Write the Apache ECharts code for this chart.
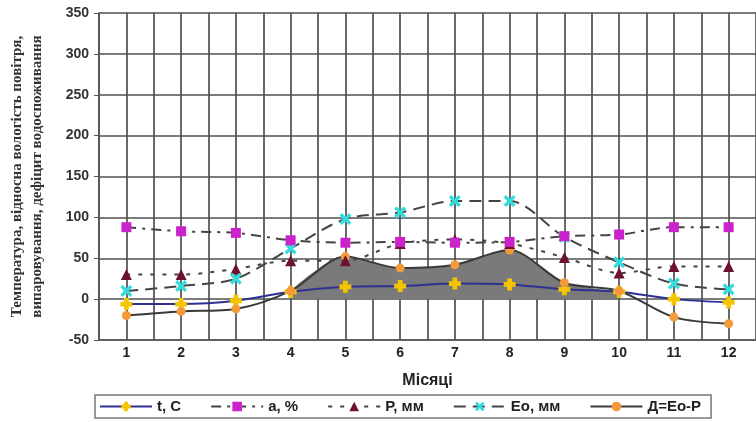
<!DOCTYPE html>
<html>
<head>
<meta charset="utf-8">
<script src="https://cdn.jsdelivr.net/npm/echarts@6/dist/echarts.min.js"></script>
<style>html,body{margin:0;padding:0;background:#fff}#c{width:756px;height:422px}</style>
</head>
<body>
<div id="c"></div>
<script>
var months = [1,2,3,4,5,6,7,8,9,10,11,12];
var tC   = [-6, -6, -2, 9, 15, 16, 19, 18, 12, 9, 0, -4];
var aPct = [88, 83, 81, 72, 69, 70, 69, 70, 77, 79, 88, 88];
var P    = [30, 30, 37, 47, 47, 68, 73, 68, 51, 32, 40, 40];
var Eo   = [10, 16, 25, 62, 98, 106, 120, 120, 76, 45, 19, 12];
var D    = [-20, -15, -12, 10, 52, 38, 42, 60, 20, 10, -22, -30];
var yTicks = [-50, 0, 50, 100, 150, 200, 250, 300, 350];
var names = ['t, C', 'a, %', 'P, мм', 'Eo, мм', 'Д=Eo-P'];

function pairs(arr, from, to) {
  var out = [];
  for (var i = (from || 0); i < (to || arr.length); i++) out.push([months[i], arr[i]]);
  return out;
}
var plusSym = 'path://M3,0h4v3h3v4h-3v3h-4v-3h-3v-4h3z';
var xSym = 'path://M0,2L2,0L5,3L8,0L10,2L7,5L10,8L8,10L5,7L2,10L0,8L3,5Z';
var font = 'Liberation Sans, Arial, sans-serif';

var chart = echarts.init(document.getElementById('c'));
chart.setOption({
  animation: false,
  backgroundColor: '#fff',
  grid: {left: 99, right: 0, top: 13, bottom: 82, containLabel: false, outerBoundsMode: 'none'},
  xAxis: {
    type: 'value', min: 0.5, max: 12.5, interval: 0.5,
    name: 'Місяці', nameLocation: 'middle', nameGap: 33,
    nameTextStyle: {fontFamily: font, fontWeight: 'bold', fontSize: 16, color: '#222'},
    axisLine: {show: true, onZero: false, lineStyle: {color: '#555', width: 1.5}},
    axisTick: {show: false},
    axisLabel: {fontFamily: font, fontWeight: 'bold', fontSize: 14, color: '#222', margin: 6,
      formatter: function (v) { return (Math.abs(v - Math.round(v)) < 1e-6) ? String(Math.round(v)) : ''; }},
    splitLine: {show: true, lineStyle: {color: '#505050', width: 1.7}}
  },
  yAxis: {
    type: 'value', min: yTicks[0], max: yTicks[yTicks.length - 1], interval: 50,
    name: 'Температура, відносна вологість повітря,\nвипаровування, дефіцит водоспоживання',
    nameLocation: 'middle', nameRotate: 90, nameGap: 52,
    nameTextStyle: {fontFamily: 'Liberation Serif, Times New Roman, serif', fontWeight: 'bold', fontSize: 15, color: '#333', lineHeight: 20},
    axisLine: {show: true, lineStyle: {color: '#555', width: 1.5}},
    axisTick: {show: true, length: 5, lineStyle: {color: '#555'}},
    axisLabel: {fontFamily: font, fontWeight: 'bold', fontSize: 14, color: '#333', margin: 10},
    splitLine: {show: true, lineStyle: {color: '#505050', width: 1.7}}
  },
  legend: {
    left: 95, top: 395, data: names,
    borderColor: '#777', borderWidth: 1.5, padding: [4, 10, 4, 4],
    itemWidth: 52, itemHeight: 12, itemGap: 29,
    textStyle: {fontFamily: font, fontWeight: 'bold', fontSize: 15, color: '#222'}
  },
  series: [
    {
      name: 'area', type: 'line', data: pairs(D, 3, 10), smooth: 0.3, symbol: 'none',
      lineStyle: {width: 0}, areaStyle: {color: '#7a7a7a', opacity: 1, origin: 0}, z: 1, silent: true
    },
    {
      name: names[0], type: 'line', data: pairs(tC), smooth: 0.3,
      symbol: plusSym, symbolSize: 12,
      lineStyle: {color: '#2e3192', width: 2},
      itemStyle: {color: '#f5c400'}, z: 3
    },
    {
      name: names[1], type: 'line', data: pairs(aPct), smooth: 0.3,
      symbol: 'rect', symbolSize: 10,
      lineStyle: {color: '#444', width: 2, type: [10, 6, 3, 6]},
      itemStyle: {color: '#cc22cc'}, z: 6
    },
    {
      name: names[2], type: 'line', data: pairs(P), smooth: 0.3,
      symbol: 'triangle', symbolSize: 11,
      lineStyle: {color: '#444', width: 2, type: [4, 8]},
      itemStyle: {color: '#6e1030'}, z: 4
    },
    {
      name: names[3], type: 'line', data: pairs(Eo), smooth: 0.3,
      symbol: xSym, symbolSize: 12,
      lineStyle: {color: '#444', width: 2, type: [12, 7]},
      itemStyle: {color: '#33dddd'}, z: 5
    },
    {
      name: names[4], type: 'line', data: pairs(D), smooth: 0.3,
      symbol: 'circle', symbolSize: 9,
      lineStyle: {color: '#3a3a3a', width: 2},
      itemStyle: {color: '#f59a3a'}, z: 3
    }
  ]
});
</script>
</body>
</html>
